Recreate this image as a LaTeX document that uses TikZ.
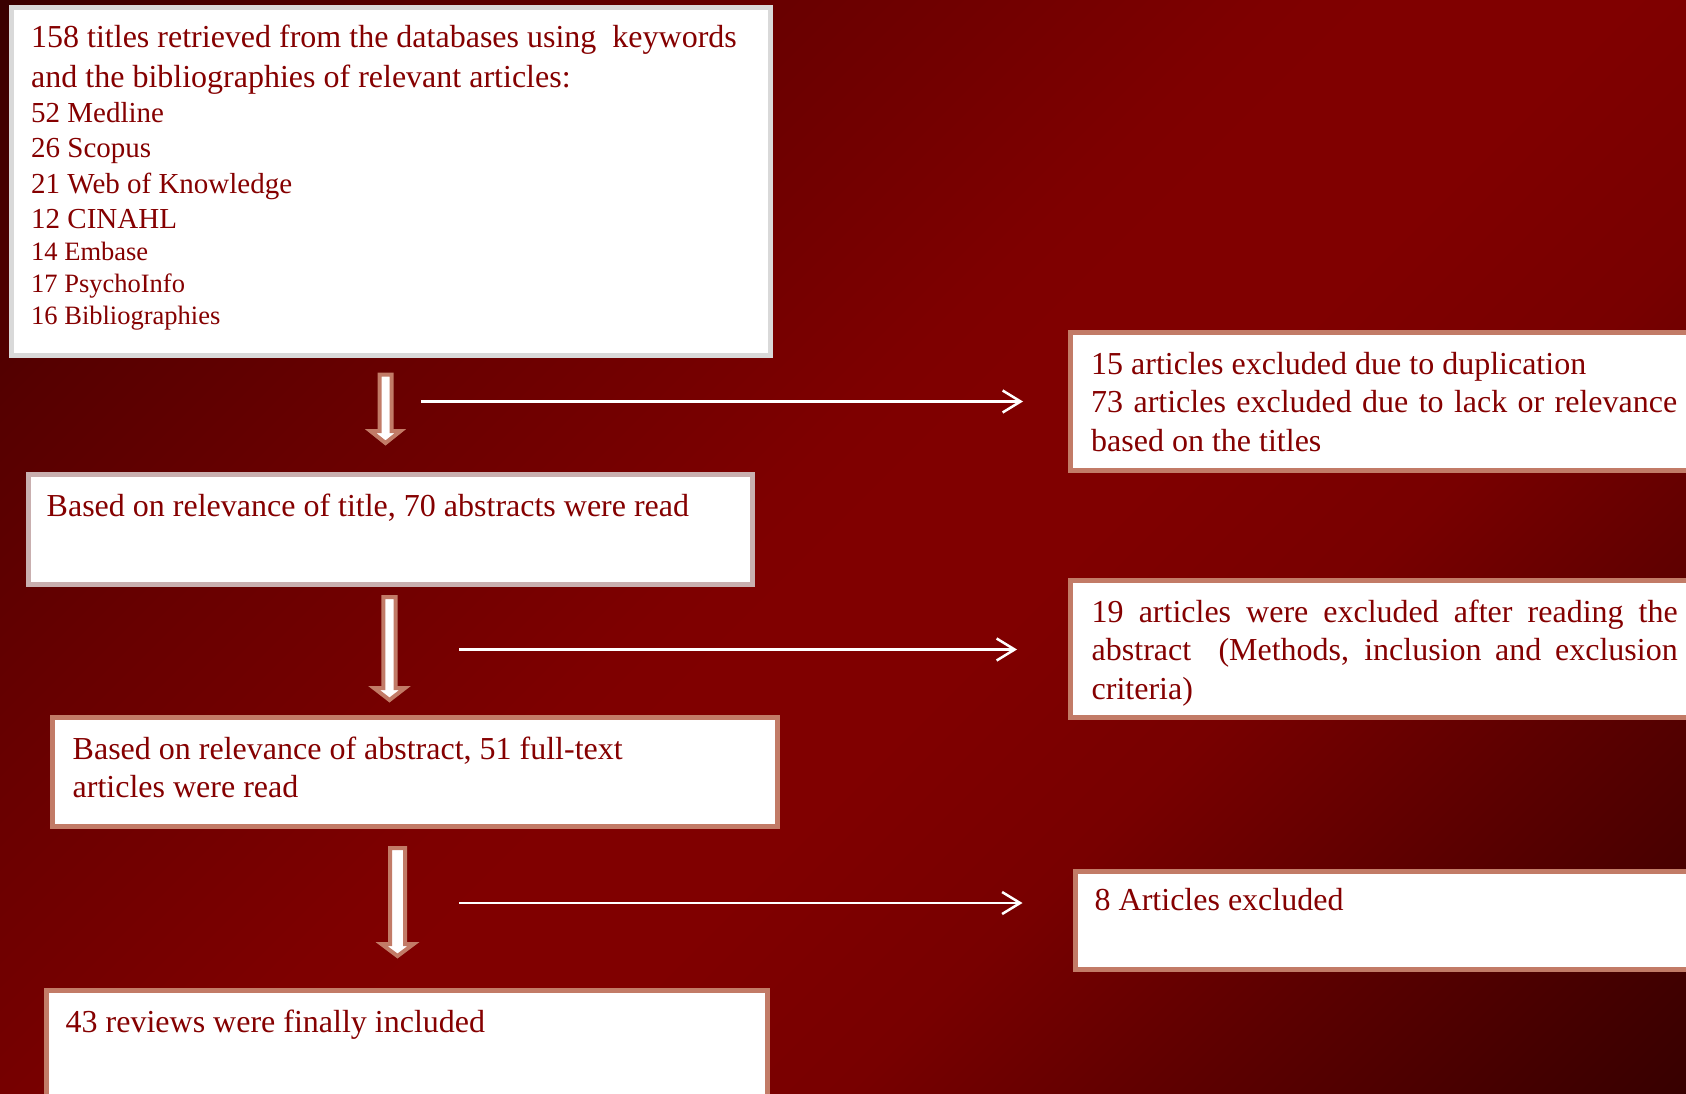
\documentclass[tikz,border=0pt]{standalone}
\usepackage{fontspec}
\setmainfont{Liberation Serif}
\usetikzlibrary{arrows.meta}
\definecolor{txt}{HTML}{850000}
\definecolor{bgA}{HTML}{300000}
\definecolor{bgB}{HTML}{3A0000}
\definecolor{bgC}{HTML}{560000}
\definecolor{bgD}{HTML}{680000}
\definecolor{bgE}{HTML}{720000}
\definecolor{bgF}{HTML}{7E0000}
\definecolor{bgM}{HTML}{800000}
\definecolor{bgG}{HTML}{780000}
\definecolor{bgH}{HTML}{5C0000}
\definecolor{bgI}{HTML}{360000}
\definecolor{salmon}{HTML}{C27B67}
\definecolor{graybd}{HTML}{D9D9D9}
\definecolor{pinkgray}{HTML}{C9AFAF}
\pgfdeclarehorizontalshading{bgshade}{100bp}{color(0bp)=(bgA); color(14.6bp)=(bgB); color(25bp)=(bgC); color(34bp)=(bgD); color(40bp)=(bgE); color(47bp)=(bgF); color(50bp)=(bgM); color(56bp)=(bgM); color(64bp)=(bgG); color(73bp)=(bgH); color(86bp)=(bgI); color(100bp)=(bgA)}
\tikzset{
  boxframe/.style={draw=salmon, fill=white, line width=5pt},
  txtnode/.style={inner sep=0pt, anchor=base west, text=txt, font=\fontsize{32}{38.5}\selectfont},
  smalltxt/.style={inner sep=0pt, anchor=base west, text=txt, font=\fontsize{29}{34}\selectfont},
  tinytxt/.style={inner sep=0pt, anchor=base west, text=txt, font=\fontsize{26.5}{31}\selectfont},
  blockarrow/.style={draw=salmon, fill=white, line width=4pt, line join=miter},
  thinarrow/.style={draw=white, line width=2.5pt, -{Straight Barb[length=18pt,width=22pt,line width=2.5pt]}}
}
\begin{document}
\begin{tikzpicture}[x=1pt,y=-1pt]
\useasboundingbox (0,0) rectangle (1686,1094);
\clip (0,0) rectangle (1686,1094);
\shade[shading=bgshade, shading angle=-45] (0pt,0pt) rectangle (1686pt,-1094pt);

% boxes
\draw[boxframe, draw=graybd] (11.5,7.5) rectangle (770.5,355.5);
\node (b1) at (391,181.5) {};
\draw[boxframe, draw=pinkgray] (28.5,474) rectangle (752.5,584.5);
\node (b2) at (390.5,529) {};
\draw[boxframe] (52.5,717.5) rectangle (777,826.5);
\node (b3) at (414.5,772) {};
\draw[boxframe] (46.5,990.5) rectangle (767.5,1110);
\node (b4) at (407,1050) {};
\draw[boxframe] (1070.5,332.5) rectangle (1700,470.5);
\node (rA) at (1385,401.5) {};
\draw[boxframe] (1070.5,580.5) rectangle (1700,717.5);
\node (rB) at (1385,649) {};
\draw[boxframe] (1075.5,871.5) rectangle (1700,969.5);
\node (rC) at (1388,920.5) {};

% box 1 text
\node[txtnode] (t1a) at (31,48) {158 titles retrieved from the databases using\ \ keywords};
\node[txtnode] (t1b) at (31,88) {and the bibliographies of relevant articles:};
\node[smalltxt] (t1c) at (31,122.5) {52 Medline};
\node[smalltxt] (t1d) at (31,158) {26 Scopus};
\node[smalltxt] (t1e) at (31,193.5) {21 Web of Knowledge};
\node[smalltxt] (t1f) at (31,229) {12 CINAHL};
\node[tinytxt] (t1g) at (31,260.5) {14 Embase};
\node[tinytxt] (t1h) at (31,292.5) {17 PsychoInfo};
\node[tinytxt] (t1i) at (31,324.5) {16 Bibliographies};

% other left texts
\node[txtnode] (t2) at (46.5,516) {Based on relevance of title, 70 abstracts were read};
\node[txtnode, font=\fontsize{32}{38}\selectfont, text width=690pt, align=flush left] (t3) at (72.5,759) {Based on relevance of abstract, 51 full-text\\articles were read};
\node[txtnode] (t4) at (65.5,1032) {43 reviews were finally included};

% right texts
\node[txtnode, text width=586pt, align=justify] (tA) at (1091,374) {15 articles excluded due to duplication\newline 73 articles excluded due to lack or relevance\linebreak based on the titles};
\node[txtnode, font=\fontsize{32}{38.3}\selectfont, text width=586pt, align=justify] (tB) at (1091.5,622.4) {19 articles were excluded after reading the\linebreak abstract\ \ (Methods, inclusion and exclusion\linebreak criteria)};
\node[txtnode] (tC) at (1094.5,910.6) {8 Articles excluded};

% block arrows (downward)
\draw[blockarrow] (379.5,374.5) -- (391.5,374.5) -- (391.5,431) -- (400.5,431) -- (385.5,443) -- (370.5,431) -- (379.5,431) -- cycle;
\draw[blockarrow] (383.3,597) -- (395.7,597) -- (395.7,688) -- (405,688) -- (389.5,700) -- (374,688) -- (383.3,688) -- cycle;
\draw[blockarrow] (390,848) -- (405,848) -- (405,944) -- (413.5,944) -- (397.5,956) -- (381.5,944) -- (390,944) -- cycle;

% thin arrows
\coordinate (h1s) at (421,401.5);
\coordinate (h1e) at (1023,401.5);
\coordinate (h2s) at (459,649.5);
\coordinate (h2e) at (1017,649.5);
\coordinate (h3s) at (459,903);
\coordinate (h3e) at (1022.5,903);
\draw[thinarrow] (h1s) -- (h1e);
\draw[thinarrow] (h2s) -- (h2e);
\draw[thinarrow] (h3s) -- (h3e);
\end{tikzpicture}
\end{document}
